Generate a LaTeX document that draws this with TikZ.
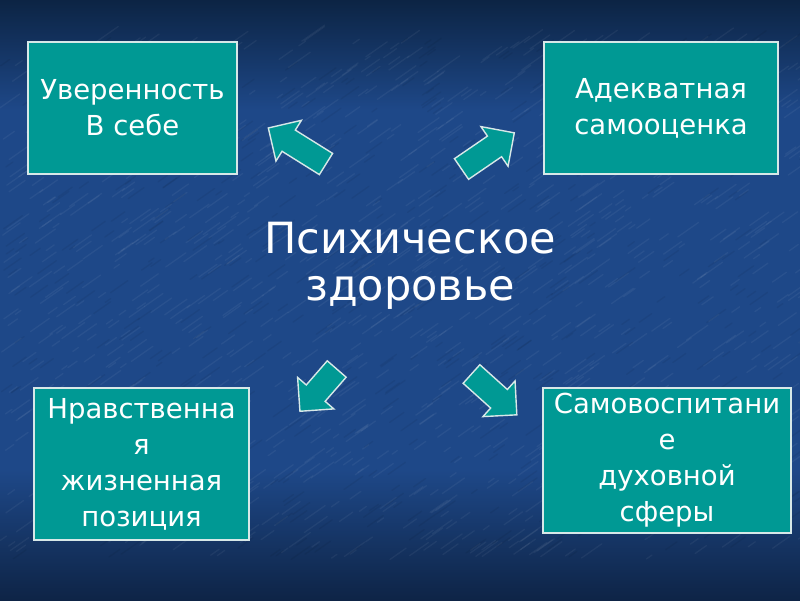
\documentclass[tikz,border=0pt]{standalone}
\usepackage{fontspec}
\setmainfont{DejaVu Sans}
\usetikzlibrary{calc}
\definecolor{bgdark}{RGB}{12,36,68}
\definecolor{bgmid}{RGB}{30,72,136}
\definecolor{bgdark2}{RGB}{14,36,70}
\definecolor{tealbox}{RGB}{0,153,148}
\definecolor{rimcol}{RGB}{215,232,232}
\tikzset{
  infobox/.style={draw=rimcol, line width=1.4pt, fill=tealbox, text=white,
    align=center, inner sep=0pt, font=\fontsize{27.5}{36}\selectfont},
  blkshape/.style={draw=rimcol, line width=1.4pt, fill=tealbox, line join=miter},
  centertext/.style={text=white, align=center, inner sep=0pt,
    font=\fontsize{43}{47}\selectfont}
}
\newcommand\blkarrow[3]{%
  \draw[blkshape, shift={(#1)}, rotate=#2]
    (0,-12.5) -- (#3-24,-12.5) -- (#3-24,-24) -- (#3,0) -- (#3-24,24)
    -- (#3-24,12.5) -- (0,12.5) -- cycle;}
\begin{document}
\begin{tikzpicture}[x=1pt,y=-1pt]
\useasboundingbox (0,0) rectangle (800,600);
% background
\fill[bgmid] (0,0) rectangle (800,600);
\shade[top color=bgdark, bottom color=bgmid] (0,0) rectangle (800,110);
\shade[top color=bgmid, bottom color=bgdark2] (0,470) rectangle (800,600);
% texture
\pgfmathsetseed{7}
\foreach \i in {1,...,1100}{
  \pgfmathsetmacro\rx{rnd*800}
  \pgfmathsetmacro\ry{40+rnd*520}
  \pgfmathsetmacro\rl{6+rnd*22}
  \draw[white, opacity=0.05, line width=1.3pt, line cap=round] (\rx,\ry) -- ++(-35:\rl);
}
\foreach \i in {1,...,500}{
  \pgfmathsetmacro\rx{rnd*800}
  \pgfmathsetmacro\ry{40+rnd*520}
  \pgfmathsetmacro\rl{6+rnd*18}
  \draw[black, opacity=0.06, line width=1.3pt, line cap=round] (\rx,\ry) -- ++(-35:\rl);
}
% boxes
\node[infobox, minimum width=209, minimum height=132] (b1) at (132.5,108) {Уверенность\\В себе};
\node[infobox, minimum width=234, minimum height=132] (b2) at (661,108) {Адекватная\\самооценка};
\node[infobox, minimum width=215, minimum height=152] (b3) at (141.5,464) {Нравственна\\я\\жизненная\\позиция};
\node[infobox, minimum width=248, minimum height=145] (b4) at (667,460.5) {Самовоспитани\\е\\ духовной\\сферы};
% central text
\node[centertext] (c) at (410,266) {Психическое\\здоровье};
% block arrows
\coordinate (t1) at (326,164);
\coordinate (t2) at (461.5,169);
\coordinate (t3) at (336.7,369);
\coordinate (t4) at (471.5,374);
\blkarrow{t1}{148}{68}
\blkarrow{t2}{34.4}{64}
\blkarrow{t3}{229}{56}
\blkarrow{t4}{-42}{61}
\end{tikzpicture}
\end{document}
